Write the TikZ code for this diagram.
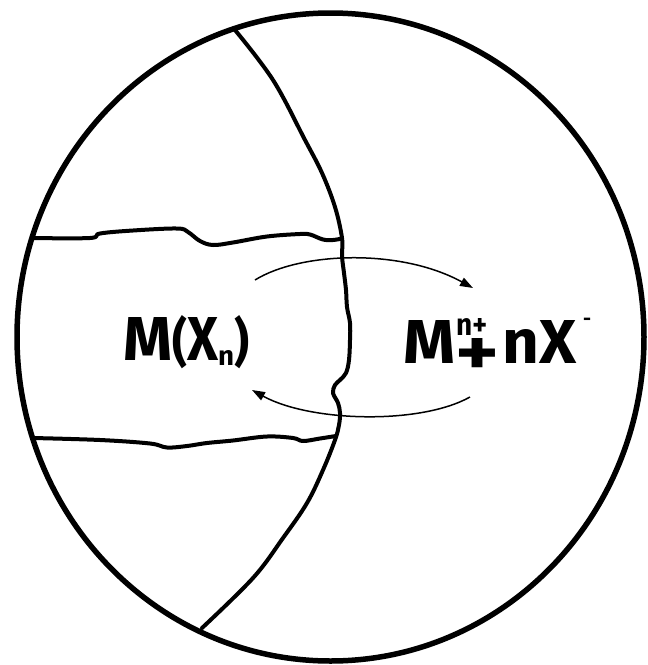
\documentclass[tikz,border=0pt]{standalone}
\usepackage{fontspec}
\setmainfont{Fira Sans}
\usetikzlibrary{arrows.meta}
\newcommand{\bigf}{\fontsize{60}{60}\selectfont\bfseries}
\newcommand{\smallf}{\fontsize{30}{30}\selectfont\bfseries}
\begin{document}
\begin{tikzpicture}[x=1pt,y=-1pt,
  rim/.style={line width=5.5pt},
  boundary/.style={line width=4pt, line join=round, line cap=round},
  flow/.style={line width=1.5pt, -{Triangle[length=13pt,width=9pt]}},
  lbl/.style={inner sep=0pt, anchor=base west}]
\useasboundingbox (0,0) rectangle (648,665);
% outer circle
\draw[rim] (330.5,337) ellipse [x radius=313.5, y radius=324];
% curved boundary with wavy middle part
\draw[boundary] plot[smooth, tension=0.6] coordinates {
  (235,30) (273,80) (305,140) (322,173) (335,207) (342,238)
  (342,256) (344,273) (346,290) (347,307) (350,323) (350,340) (349,360)
  (346,373) (340,380) (335,385) (333,393) (338,403) (340,413)
  (339,425) (335,440) (323,470) (307,503) (283,538) (253,578) (202,628)};
% upper wavy line
\draw[boundary] plot[smooth, tension=0.6] coordinates {
  (32,238) (90,238) (100,233.5) (133,230.5) (177,228.5) (188,232)
  (200,241) (213,245) (233,242.5) (267,236.5) (300,234) (310,234.5)
  (323,239.5) (333,240) (342,238.5)};
% lower wavy line
\draw[boundary] plot[smooth, tension=0.6] coordinates {
  (33,438) (100,440) (150,443.5) (167,447.5) (187,446) (207,443)
  (233,440.5) (267,436.5) (293,438) (303,441) (320,438.5) (336,436)};
% arrows
\draw[flow] (255,280) .. controls (300,252) and (400,248) .. (473,288);
\draw[flow] (470,397) .. controls (420,425) and (310,422) .. (252,390);
% labels
\node[lbl] (salt) at (123,360) {\resizebox{49pt}{43pt}{\bigf M}\resizebox{15pt}{45pt}{\bigf(}\resizebox{31pt}{43pt}{\bigf X}\raisebox{-5pt}{\resizebox{16pt}{15pt}{\smallf n}}\resizebox{15pt}{45pt}{\bigf )}};
\node[lbl] (metal) at (403,363) {\resizebox{52pt}{43pt}{\bigf M}};
\node[lbl] (charge) at (456,335) {\resizebox{31pt}{17pt}{\smallf n+}};
\node[inner sep=0pt, anchor=base] (plus) at (477,375) {\resizebox{44pt}{37pt}{\bigf +}};
\node[lbl] (anion) at (502,363) {\resizebox{74pt}{43pt}{\bigf nX}};
\node[inner sep=0pt] (minus) at (587,322) {\resizebox{8pt}{!}{\smallf -}};
\end{tikzpicture}
\end{document}
